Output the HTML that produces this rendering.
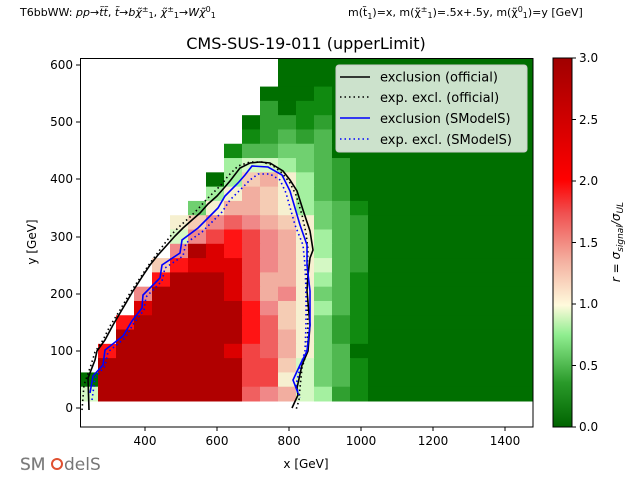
<!DOCTYPE html>
<html><head><meta charset="utf-8"><style>
html,body{margin:0;padding:0;background:#fff;}
svg{display:block;font-family:"DejaVu Sans","Liberation Sans",sans-serif;}
</style></head><body>
<svg id="s" width="640" height="480" viewBox="0 0 640 480" xmlns="http://www.w3.org/2000/svg">
<defs>
<linearGradient id="cb" x1="0" y1="1" x2="0" y2="0">
<stop offset="0" stop-color="#006400"/>
<stop offset="0.12" stop-color="#2a9a2a"/>
<stop offset="0.25" stop-color="#90ee90"/>
<stop offset="0.33" stop-color="#fffadc"/>
<stop offset="0.45" stop-color="#f4b0a0"/>
<stop offset="0.58" stop-color="#f05050"/>
<stop offset="0.67" stop-color="#ff0000"/>
<stop offset="1" stop-color="#a00000"/>
</linearGradient>
</defs>
<g id="cells"></g>
<rect x="80.5" y="58.5" width="452.5" height="368.5" fill="none" stroke="#000" stroke-width="1"/>
<!-- lines -->
<polyline fill="none" stroke="#000" stroke-width="1.6" points="89,410 88,378 95,360 97,351 105,340 113,325 123,308 133,291 142,277 150,265 158,255 167,245 175,236 183,228 192,220 200,213 208,204 217,196 224,188 230,181 240,168 250,163 260,162 270,163 283,171 290,180 297,191 303,210 310,231 313,250 310,258 308,275 307,291 310,325 308,351 302,365 297,388 298,395 292,408"/>
<polyline fill="none" stroke="#000" stroke-width="1.6" stroke-dasharray="1.5,3" points="82,410 84,385 91,365 95,352 103,340 110,326 120,310 130,293 140,278 148,266 156,255 165,243 173,233 181,225 190,217 198,209 206,200 214,192 222,184 228,176 238,166 250,162 262,162 272,165 282,173 290,183 296,195 302,215 306,233 308,250 307,270 306,291 308,325 307,351 302,368 300,388 299,400 296,410"/>
<polyline fill="none" stroke="#0000ff" stroke-width="1.6" points="90,393 93,376 103,365 105,350 123,336 132,321 142,308 143,295 160,278 162,265 180,253 182,240 198,228 208,218 218,208 225,196 238,183 245,175 252,166 268,167 282,175 290,191 300,225 307,245 307,265 310,291 310,325 307,351 300,365 293,380 298,393"/>
<polyline fill="none" stroke="#0000ff" stroke-width="1.6" stroke-dasharray="1.5,3" points="92,400 95,378 105,366 108,352 125,338 134,323 144,310 146,297 162,281 165,268 183,256 186,243 202,232 212,222 222,212 230,200 242,188 250,180 258,174 270,174 280,180 286,193 295,225 303,245 305,265 306,291 306,325 305,351 300,368 296,385 300,398"/>
<!-- legend -->
<rect x="336" y="65" width="191" height="87" rx="3" fill="#ffffff" fill-opacity="0.8" stroke="#cccccc" stroke-width="1"/>
<line x1="340" y1="77" x2="370" y2="77" stroke="#000" stroke-width="1.6"/>
<line x1="340" y1="97" x2="370" y2="97" stroke="#000" stroke-width="1.6" stroke-dasharray="1.5,3"/>
<line x1="340" y1="118" x2="370" y2="118" stroke="#0000ff" stroke-width="1.6"/>
<line x1="340" y1="139" x2="370" y2="139" stroke="#0000ff" stroke-width="1.6" stroke-dasharray="1.5,3"/>
<g font-size="13" fill="#000">
<text x="380" y="81.5">exclusion (official)</text>
<text x="380" y="102">exp. excl. (official)</text>
<text x="380" y="123">exclusion (SModelS)</text>
<text x="380" y="144">exp. excl. (SModelS)</text>
</g>
<!-- axes ticks -->
<g stroke="#000" stroke-width="1">
<line x1="145" y1="427" x2="145" y2="431"/><line x1="217" y1="427" x2="217" y2="431"/><line x1="289" y1="427" x2="289" y2="431"/><line x1="361" y1="427" x2="361" y2="431"/><line x1="433" y1="427" x2="433" y2="431"/><line x1="505" y1="427" x2="505" y2="431"/>
<line x1="76" y1="65" x2="80" y2="65"/><line x1="76" y1="122" x2="80" y2="122"/><line x1="76" y1="179" x2="80" y2="179"/><line x1="76" y1="237" x2="80" y2="237"/><line x1="76" y1="294" x2="80" y2="294"/><line x1="76" y1="351" x2="80" y2="351"/><line x1="76" y1="408" x2="80" y2="408"/>
</g>
<g font-size="12" fill="#000" text-anchor="middle">
<text x="145" y="445">400</text><text x="217" y="445">600</text><text x="289" y="445">800</text><text x="361" y="445">1000</text><text x="433" y="445">1200</text><text x="505" y="445">1400</text>
</g>
<g font-size="12" fill="#000" text-anchor="end">
<text x="73" y="69">600</text><text x="73" y="126">500</text><text x="73" y="183">400</text><text x="73" y="241">300</text><text x="73" y="298">200</text><text x="73" y="355">100</text><text x="73" y="412">0</text>
</g>
<text x="306" y="468" font-size="12" text-anchor="middle">x [GeV]</text>
<text transform="translate(36,242) rotate(-90)" font-size="12" text-anchor="middle">y [GeV]</text>
<text x="306" y="49" font-size="16" text-anchor="middle">CMS-SUS-19-011 (upperLimit)</text>
<text x="20" y="16" font-size="11">T6bbWW: <tspan font-style="italic">pp</tspan>→<tspan font-style="italic">t̃t̃</tspan>, <tspan font-style="italic">t̃</tspan>→<tspan font-style="italic">bχ̃</tspan><tspan font-size="8" dy="-4">±</tspan><tspan font-size="8" dy="6">1</tspan><tspan dy="-2">, </tspan><tspan font-style="italic">χ̃</tspan><tspan font-size="8" dy="-4">±</tspan><tspan font-size="8" dy="6">1</tspan><tspan dy="-2">→</tspan><tspan font-style="italic">Wχ̃</tspan><tspan font-size="8" dy="-4">0</tspan><tspan font-size="8" dy="6">1</tspan></text>
<text x="348" y="16" font-size="11">m(t̃<tspan font-size="8" dy="3">1</tspan><tspan dy="-3">)=x, m(χ̃</tspan><tspan font-size="8" dy="-4">±</tspan><tspan font-size="8" dy="6">1</tspan><tspan dy="-2">)=.5x+.5y, m(χ̃</tspan><tspan font-size="8" dy="-4">0</tspan><tspan font-size="8" dy="6">1</tspan><tspan dy="-2">)=y [GeV]</tspan></text>
<!-- colorbar -->
<rect x="553" y="58" width="19" height="369" fill="url(#cb)" stroke="#000" stroke-width="1"/>
<g stroke="#000"><line x1="572" y1="58" x2="576" y2="58"/><line x1="572" y1="119.5" x2="576" y2="119.5"/><line x1="572" y1="181" x2="576" y2="181"/><line x1="572" y1="242.5" x2="576" y2="242.5"/><line x1="572" y1="304" x2="576" y2="304"/><line x1="572" y1="365.5" x2="576" y2="365.5"/><line x1="572" y1="427" x2="576" y2="427"/></g>
<g font-size="12"><text x="579" y="62">3.0</text><text x="579" y="124">2.5</text><text x="579" y="185">2.0</text><text x="579" y="247">1.5</text><text x="579" y="308">1.0</text><text x="579" y="370">0.5</text><text x="579" y="431">0.0</text></g>
<text transform="translate(620,242) rotate(-90)" font-size="12" text-anchor="middle" font-style="italic">r = σ<tspan font-size="9" dy="3">signal</tspan><tspan dy="-3">/σ</tspan><tspan font-size="9" dy="3">UL</tspan></text>
<!-- logo -->
<text x="20" y="470" font-size="17" fill="#777" stroke="#999" stroke-width="0.3">SM</text>
<circle cx="57" cy="464" r="5" fill="none" stroke="#e05030" stroke-width="2"/>
<text x="64" y="470" font-size="17" fill="#777">delS</text>
</svg>
<script>
var rows=[
"...........DDDDDDDDDDDDDD",
"...........DDDDDDDDDDDDDD",
"..........DDD1",
"..........2D11",
".........D2212",
".........12323",
"........133443",
"........5665432",
".......D5aby532",
".......5ybay532",
"......4ybbay5431",
".....yacdcbay432",
".....6cerecby532",
".....ctsrecby532",
"....arsssecby632",
"....rtttsebby531",
"...cttttsebcy431",
"...stttttrcay531",
"..rttttttrday421",
"..tttttttrdby421",
".rttttttsedby43D",
".tttttttteea6431",
"Dtttttttteey6431",
"6ttttttttdcb6521"];
var col={D:"#006f00","1":"#108a10","2":"#30a030","3":"#50b850","4":"#70d070","5":"#a4f0a0","6":"#d4f8c4",y:"#f6f0d0",a:"#f5ccb4",b:"#f2aea0",c:"#f08888",d:"#f06060",e:"#f24444",r:"#ff1414",s:"#dc0000",t:"#b00000"};
var g=document.getElementById("cells"),h="";
var rh=343/24;
for(var r=0;r<24;r++){var s=rows[r];while(s.length<25)s+="D";
for(var c=0;c<25;c++){var k=s[c];if(k==".")continue;
var x=80+18*c,y=58+rh*r,w=(c==24)?(533-x):18.5;
h+='<rect x="'+x+'" y="'+y.toFixed(2)+'" width="'+w+'" height="'+(rh+0.5).toFixed(2)+'" fill="'+col[k]+'"/>';}}
g.innerHTML=h;
</script>
</body></html>
